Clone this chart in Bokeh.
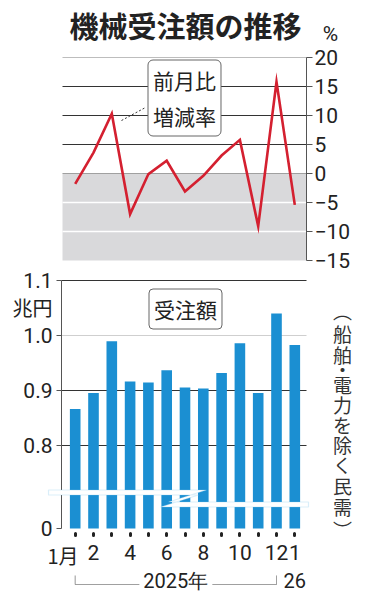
from bokeh.plotting import figure
from bokeh.models import (FixedTicker, Grid, BoxAnnotation, Label, PolyAnnotation,
                          Range1d, LinearAxis)
from bokeh.core.properties import value
from bokeh.embed import file_html
from bokeh.resources import INLINE

# ---------------- data ----------------
months = list(range(1, 14))  # 2025/1 .. 2026/1
month_labels = {1: "", 2: "2", 3: "", 4: "4", 5: "", 6: "6", 7: "", 8: "8",
                9: "", 10: "10", 11: "", 12: "12", 13: "1"}
mom_change = [-1.8, 3.6, 10.3, -7.0, -0.1, 2.2, -3.1, -0.4, 3.1, 5.8, -9.1, 15.8, -5.4]  # %
orders = [0.867, 0.896, 0.990, 0.917, 0.915, 0.937, 0.906, 0.904, 0.932, 0.986, 0.896, 1.040, 0.983]  # 兆円
top_ticks = [-15, -10, -5, 0, 5, 10, 15, 20]
bottom_tick_values = [0.0, 0.8, 0.9, 1.0, 1.1]
bottom_tick_labels = ["0", "0.8", "0.9", "1.0", "1.1"]
note_chars = ["︵", "船", "舶", "・", "電", "力", "を", "除", "く", "民", "需", "︶"]

BREAK = 0.65  # axis break: values >= 0.8 are drawn shifted down by this amount

# ---------------- layout (pixels) ----------------
W, H = 368, 598
X0_PX, X_STEP = 74.7, 18.3          # first bar centre, month spacing
PCT0_PX, PCT_SCALE = 173.0, 5.8     # top chart: y of 0 %, px per %
ORD0_PX, ORD_SCALE = 528.0, 551.0   # bottom chart: y of 0, px per unit
LEFT_PX, RIGHT_PX = 61.0, 306.0
NOTE_X_PX = 342
NOTE_Y_PX = [310, 333, 354, 369, 384, 404, 424, 444, 464, 485, 506, 529]


def X(px):
    return 1 + (px - X0_PX) / X_STEP


def YT(py):
    return (PCT0_PX - py) / PCT_SCALE


def YB(py):
    return (ORD0_PX - py) / ORD_SCALE


JP = "Noto Sans CJK JP"
NUM = "Roboto"
BAR_COLOR = "#1b8fd2"
RED = "#d42030"
DARK = "#333333"
TXT = "#222222"

p = figure(width=W, height=H, min_border=0,
           x_range=Range1d(X(0), X(W)), y_range=Range1d(YB(H), YB(0)),
           output_backend="svg", toolbar_location=None)
p.extra_y_ranges = {"pct": Range1d(YT(H), YT(0))}
p.outline_line_color = None
p.background_fill_color = "white"
p.xgrid.grid_line_color = None
p.ygrid.grid_line_color = None

# ================= top chart: month-on-month change =================
p.add_layout(BoxAnnotation(left=X(LEFT_PX + 1), right=X(RIGHT_PX), bottom=-15, top=0,
                           y_range_name="pct", fill_color="#d9d9db", fill_alpha=1.0,
                           line_color=None, level="image"))
cb_top = (X(LEFT_PX + 1), X(RIGHT_PX))
for ticks, color, width in [([5, 10, 15], DARK, 1), ([20], "#bdbdbd", 1),
                            ([0], "#a0a0a0", 1), ([-5, -10], "white", 1.5)]:
    p.add_layout(Grid(dimension=1, y_range_name="pct", ticker=FixedTicker(ticks=ticks),
                      cross_bounds=cb_top, grid_line_color=color, grid_line_width=width))

ax = LinearAxis(y_range_name="pct", fixed_location=X(RIGHT_PX), bounds=(-15, 20))
ax.ticker = FixedTicker(ticks=top_ticks)
ax.axis_line_color = "#555555"
ax.major_tick_line_color = "#555555"
ax.major_tick_out = 6
ax.major_tick_in = 0
ax.minor_tick_line_color = None
ax.major_label_standoff = 2
ax.major_label_text_font = NUM
ax.major_label_text_font_size = "21px"
ax.major_label_text_color = TXT
p.add_layout(ax, "right")

p.line(months, mom_change, y_range_name="pct", line_color=RED, line_width=2.6,
       line_join="miter")

# callout
p.segment(x0=[X(121)], y0=[YT(120)], x1=[X(145)], y1=[YT(107)], y_range_name="pct",
          line_color=DARK, line_width=1, line_dash="2 2")
p.add_layout(Label(x=X(184), y=YT(97.5), y_range_name="pct", text="前月比\n増減率",
                   text_align="center", text_baseline="middle", text_font=JP,
                   text_font_size="21px", text_color=TXT, text_line_height=1.2,
                   background_fill_color="white", border_line_color="#666666",
                   border_line_width=1, padding=5, border_radius=5))

p.add_layout(Label(x=X(185), y=YT(24), y_range_name="pct", text="機械受注額の推移",
                   text_align="center", text_baseline="middle", text_font=JP,
                   text_font_style="bold", text_font_size="29px", text_color=TXT))
p.add_layout(Label(x=X(330), y=YT(33), y_range_name="pct", text="%",
                   text_align="center", text_baseline="middle", text_font=NUM,
                   text_font_size="21px", text_color=TXT))

# ================= bottom chart: orders =================
disp = [round(v - BREAK, 4) for v in orders]
p.vbar(x=months, top=disp, bottom=0, width=0.58, fill_color=BAR_COLOR, line_color=None)

tick_pos = [0.0] + [round(v - BREAK, 4) for v in bottom_tick_values[1:]]
cb_bot = (X(LEFT_PX), X(RIGHT_PX))
p.add_layout(Grid(dimension=1, ticker=FixedTicker(ticks=[tick_pos[1], tick_pos[2], tick_pos[4]]),
                  cross_bounds=cb_bot, grid_line_color=DARK, grid_line_width=1))
p.add_layout(Grid(dimension=1, ticker=FixedTicker(ticks=[tick_pos[3]]),
                  cross_bounds=cb_bot, grid_line_color="#cfcfcf", grid_line_width=1))

ya = p.yaxis[0]
ya.fixed_location = X(LEFT_PX)
ya.bounds = (0, tick_pos[-1])
ya.ticker = FixedTicker(ticks=tick_pos)
ya.major_label_overrides = {t: l for t, l in zip(tick_pos, bottom_tick_labels)}
ya.axis_line_color = "#555555"
ya.major_tick_line_color = "#555555"
ya.major_tick_out = 5
ya.major_tick_in = 0
ya.minor_tick_line_color = None
ya.major_label_standoff = 4
ya.major_label_text_font = NUM
ya.major_label_text_font_size = "21px"
ya.major_label_text_color = TXT

xa = p.xaxis[0]
xa.fixed_location = 0
xa.ticker = FixedTicker(ticks=months)
xa.major_label_overrides = month_labels
xa.axis_line_color = None
xa.major_tick_line_color = "#222222"
xa.major_tick_line_width = 3
xa.major_tick_line_cap = "round"
xa.major_tick_in = -5
xa.major_tick_out = 7
xa.minor_tick_line_color = None
xa.major_label_standoff = 9
xa.major_label_text_font = NUM
xa.major_label_text_font_size = "21px"
xa.major_label_text_color = TXT

# axis-break symbol (Z-shaped band)
brk_px = [(48, 489.5), (206, 489.5), (168, 501.5), (308, 501.5),
          (308, 506.5), (160, 506.5), (198, 494.5), (48, 494.5)]
p.add_layout(PolyAnnotation(xs=[X(a) for a, b in brk_px], ys=[YB(b) for a, b in brk_px],
                            fill_color="white", fill_alpha=1.0,
                            line_color="#86c8ec", line_width=1.2))

p.add_layout(Label(x=X(185), y=YB(308.5), text="受注額", text_align="center",
                   text_baseline="middle", text_font=JP, text_font_size="21px",
                   text_color=TXT, background_fill_color="white",
                   border_line_color="#666666", border_line_width=1, padding=5,
                   border_radius=4))
p.add_layout(Label(x=X(32), y=YB(306.5), text="兆円", text_align="center",
                   text_baseline="middle", text_font=JP, text_font_size="20px",
                   text_color=TXT))
p.add_layout(Label(x=X(78), y=YB(555), text="1月", text_align="right",
                   text_baseline="middle", text_font=JP, text_font_size="20px",
                   text_color=TXT))

# vertical note (upright characters, stacked)
p.text(x=[X(NOTE_X_PX)] * len(note_chars), y=[YB(v) for v in NOTE_Y_PX], text=note_chars,
       text_align="center", text_baseline="middle", text_font=value(JP),
       text_font_size="19px", text_color="#333333")

# year bracket
yb, th = YB(584), YB(575)
p.add_layout(PolyAnnotation(xs=[1, 1, 12, 12, 12, 1], ys=[th, yb, yb, th, yb, yb],
                            fill_alpha=0, line_color="#444444", line_width=1))
p.add_layout(Label(x=6.5, y=YB(580), text="2025年", text_align="center",
                   text_baseline="middle", text_font=NUM, text_font_size="20px",
                   text_color=TXT, background_fill_color="white", padding=4))
p.add_layout(Label(x=13, y=YB(580), text="26", text_align="center",
                   text_baseline="middle", text_font=NUM, text_font_size="20px",
                   text_color=TXT))

open("out.html", "w").write(file_html(p, INLINE))
